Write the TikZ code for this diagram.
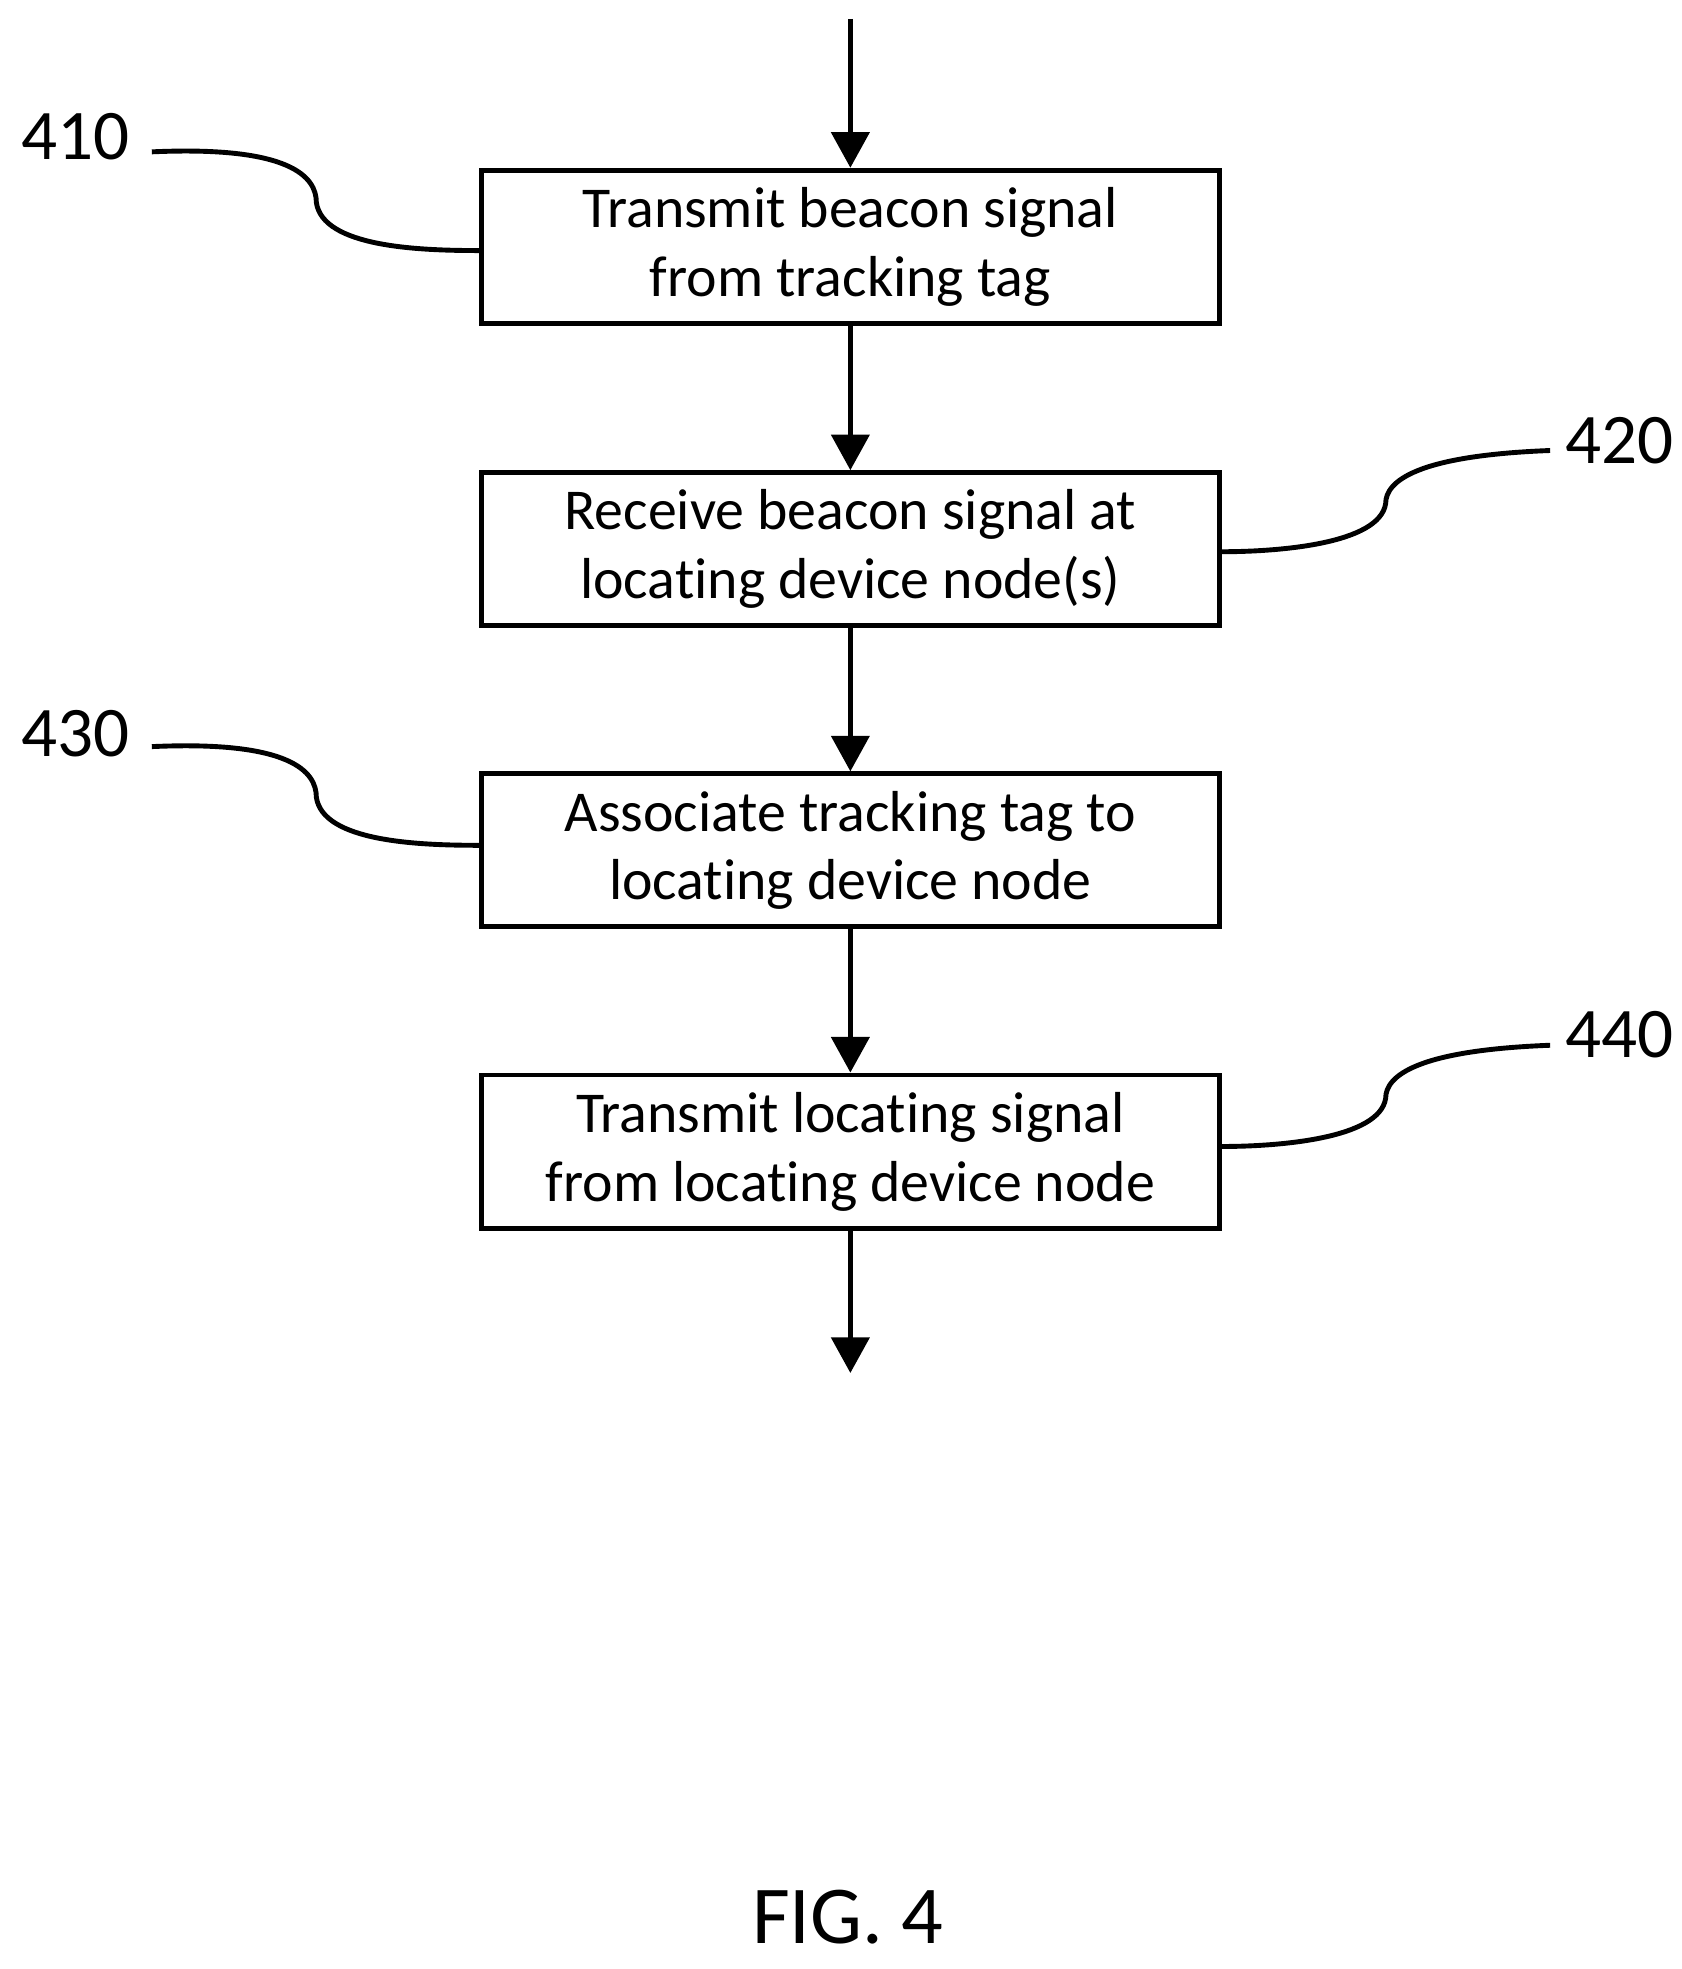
\documentclass[tikz,border=0pt]{standalone}
\usepackage{fontspec}
\setmainfont[Ligatures=NoCommon]{Carlito}
\usetikzlibrary{arrows.meta}
\begin{document}
\begin{tikzpicture}[x=0.02cm,y=-0.02cm,
  box/.style={draw,line width=2.2pt,minimum width=583*0.02cm,minimum height=121*0.02cm,align=center,font=\fontsize{26}{31}\selectfont,inner sep=0pt},
  arr/.style={line width=2.2pt,-{Triangle[length=16pt,width=17pt]}},
  lead/.style={line width=2.2pt},
  lbl/.style={font=\fontsize{32}{32}\selectfont,inner sep=0pt}]
\useasboundingbox (0,0) rectangle (1329,1556);
\node[box] (b1) at (672,195) {Transmit beacon signal\\from tracking tag};
\node[box] (b2) at (672,434) {Receive beacon signal at\\locating device node(s)};
\node[box] (b3) at (672,672) {Associate tracking tag to\\locating device node};
\node[box] (b4) at (672,910) {Transmit locating signal\\from locating device node};
\coordinate (top) at (672,15);
\coordinate (bot) at (672,1085);
\draw[arr] (top) -- (b1.north);
\draw[arr] (b1) -- (b2);
\draw[arr] (b2) -- (b3);
\draw[arr] (b3) -- (b4);
\draw[arr] (b4.south) -- (bot);
\node[lbl] (l1) at (60,108) {410};
\node[lbl] (l2) at (1280,348) {420};
\node[lbl] (l3) at (60,580) {430};
\node[lbl] (l4) at (1280,818) {440};
\coordinate (l1e) at (120,120); \coordinate (l3e) at (120,590);
\coordinate (l2e) at (1225,356); \coordinate (l4e) at (1225,826);
\draw[lead] (l1e) .. controls (230,115) and (250,140) .. (250,160) .. controls (255,195) and (330,198) .. (b1.west |- 0,198);
\draw[lead] (l3e) .. controls (230,585) and (250,610) .. (250,630) .. controls (255,665) and (330,668) .. (b3.west |- 0,668);
\draw[lead] (l2e) .. controls (1120,360) and (1095,380) .. (1095,398) .. controls (1090,430) and (1010,436) .. (b2.east |- 0,436);
\draw[lead] (l4e) .. controls (1120,830) and (1095,850) .. (1095,868) .. controls (1090,900) and (1010,906) .. (b4.east |- 0,906);
\node[font=\fontsize{37}{37}\selectfont] (fig) at (670,1515) {FIG. 4};
\end{tikzpicture}
\end{document}
